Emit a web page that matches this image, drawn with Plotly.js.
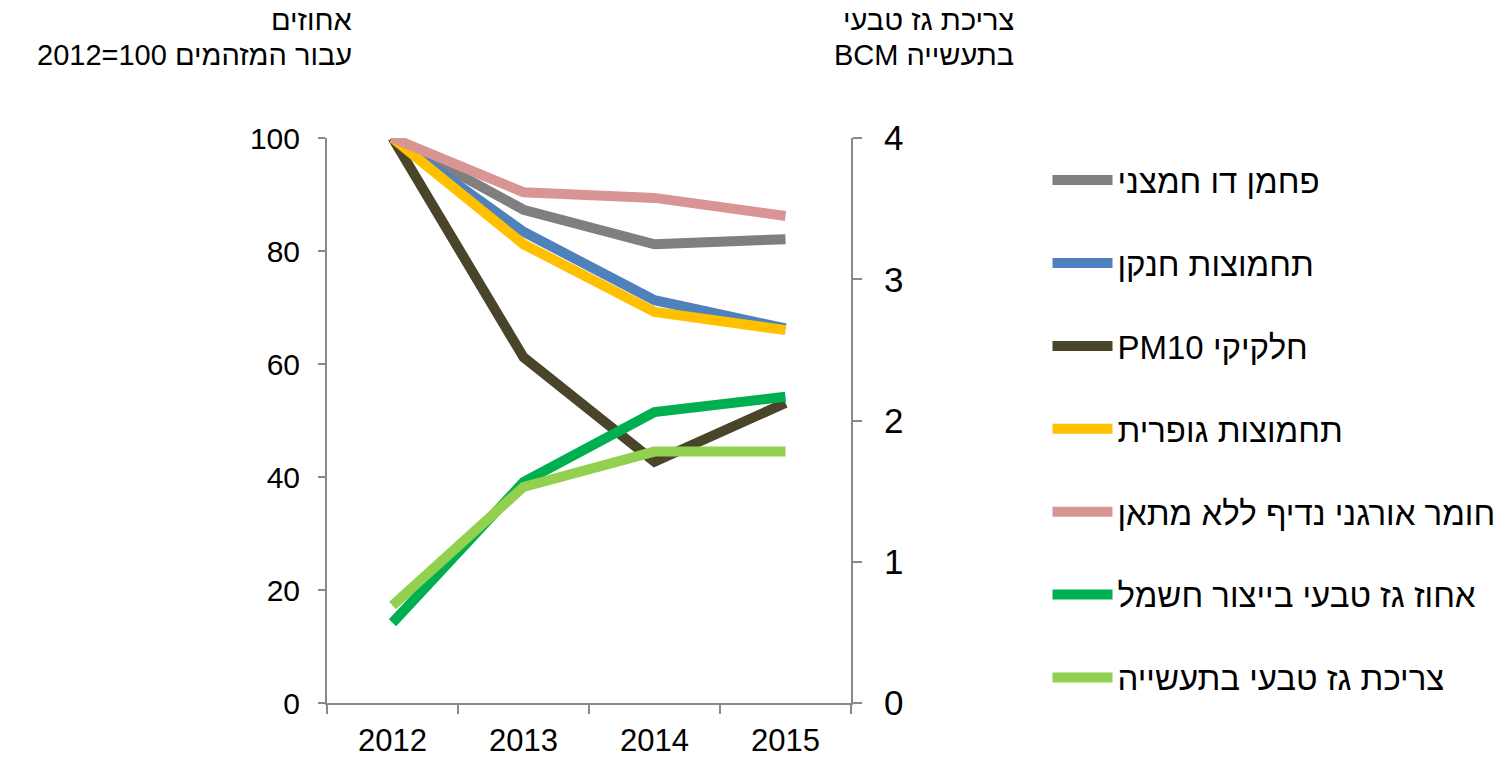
<!DOCTYPE html>
<html><head><meta charset="utf-8">
<script src="https://cdn.plot.ly/plotly-3.0.1.min.js"></script>
<style>html,body{margin:0;padding:0;background:#fff}</style>
</head><body><div id="chart" style="width:1512px;height:758px"></div>
<script>
const years = ['2012', '2013', '2014', '2015'];
const names = ['פחמן דו חמצני', 'תחמוצות חנקן', 'PM10 חלקיקי', 'תחמוצות גופרית', 'חומר אורגני נדיף ללא מתאן', 'אחוז גז טבעי בייצור חשמל', 'צריכת גז טבעי בתעשייה'];
const co2 = [100, 87.3, 81.2, 82.1];
const nox = [100, 83.4, 71.3, 66.3];
const pm10 = [100, 61.2, 42.7, 53.1];
const sox = [100, 81.2, 69.2, 66.0];
const nmvoc = [100, 90.4, 89.4, 86.2];
const gasShareElec = [14.2, 39.1, 51.5, 54.2];
const gasIndustryBCM = [0.69, 1.53, 1.78, 1.78];
const colors = ['#7f7f7f', '#4f81bd', '#4a452a', '#ffc000', '#d99594', '#00b050', '#92d050'];
const series = [co2, nox, pm10, sox, nmvoc, gasShareElec, gasIndustryBCM];
const axes = ['y', 'y', 'y', 'y', 'y', 'y', 'y2'];
const leftTitle = ['אחוזים', '2012=100 עבור המזהמים'];
const rightTitle = ['צריכת גז טבעי', 'BCM בתעשייה'];

const traces = series.map((vals, i) => ({
  type: 'scatter', mode: 'lines', x: years, y: vals, name: names[i],
  yaxis: axes[i], legendgroup: 'g' + i,
  line: {color: colors[i], width: 10}
}));

const font = 'Liberation Sans, Arial, sans-serif';
const axisColor = '#898989';
const px2y = p => (703 - p) / 565;
const px2x = p => (p - 327) / 526;
const titleAnn = (txt, xr, yc) => ({xref: 'paper', yref: 'paper', x: px2x(xr), y: px2y(yc),
  xanchor: 'right', yanchor: 'middle', align: 'right', showarrow: false, font: {size: 29}, text: txt,
  borderpad: 0});
const layout = {
  width: 1512, height: 758,
  margin: {l: 327, r: 659, t: 138, b: 55},
  paper_bgcolor: '#fff', plot_bgcolor: '#fff',
  font: {family: font, color: '#000', size: 28},
  showlegend: true,
  legend: {x: 1.375, y: 0.975, xanchor: 'left', yanchor: 'top', traceorder: 'grouped',
           tracegroupgap: 37, font: {size: 33, family: font}, itemwidth: 60},
  xaxis: {type: 'category', range: [-0.5, 3.5], tickson: 'boundaries', ticks: 'outside',
          ticklen: 9, tickwidth: 2, tickcolor: axisColor, showline: true, linecolor: axisColor,
          linewidth: 2, showgrid: false, zeroline: false, tickfont: {size: 31}, ticklabelstandoff: 9},
  yaxis: {range: [0, 100], dtick: 20, ticks: 'outside', ticklen: 7, tickwidth: 2, tickcolor: axisColor,
          showline: true, linecolor: axisColor, linewidth: 2, showgrid: false, zeroline: false,
          tickfont: {size: 30}, ticklabelstandoff: 12},
  yaxis2: {range: [0, 4], dtick: 1, overlaying: 'y', side: 'right', ticks: 'outside', ticklen: 9,
           tickwidth: 2, tickcolor: axisColor, showline: true, linecolor: axisColor, linewidth: 2,
           showgrid: false, zeroline: false, tickfont: {size: 35}, ticklabelstandoff: 15},
  annotations: [
    titleAnn(leftTitle[0], 353, 20), titleAnn(leftTitle[1], 353, 55),
    titleAnn(rightTitle[0], 1018, 20), titleAnn(rightTitle[1], 1018, 55)
  ]
};
Plotly.newPlot('chart', traces, layout, {displayModeBar: false, staticPlot: true});
</script></body></html>
